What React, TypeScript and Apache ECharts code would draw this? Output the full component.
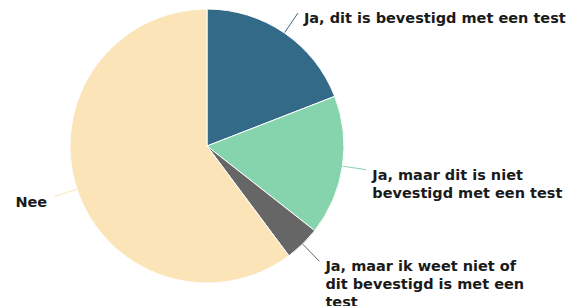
import React, { useEffect, useRef } from "react";
import * as echarts from "echarts";

const categories = [
  "Ja, dit is bevestigd met een test",
  "Ja, maar dit is niet bevestigd met een test",
  "Ja, maar ik weet niet of dit bevestigd is met een test",
  "Nee",
];
const values = [19.1, 16.5, 4.2, 60.2];
const colors = ["#336a87", "#86d4ad", "#666666", "#fbe5b8"];
const labelWidths = [0, 205, 205, 0];

export default function App() {
  const ref = useRef<HTMLDivElement>(null);
  useEffect(() => {
    document.body.style.margin = "0";
    const chart = echarts.init(ref.current!, null, { renderer: "svg" });
    chart.setOption({
      animation: false,
      backgroundColor: "#ffffff",
      series: [
        {
          type: "pie",
          center: [207, 146],
          radius: 137,
          startAngle: 90,
          clockwise: true,
          avoidLabelOverlap: false,
          itemStyle: { borderColor: "#ffffff", borderWidth: 1 },
          label: {
            show: true,
            position: "outside",
            color: "#1a1a1a",
            fontFamily: "DejaVu Sans",
            fontWeight: "bold",
            fontSize: 14.5,
            lineHeight: 18,
            alignTo: "none",
          },
          labelLine: { show: true, length: 24, length2: 0, lineStyle: { width: 1 } },
          labelLayout: (params: any) => {
            const pts = params.labelLinePoints;
            if (!pts) return {};
            const end = pts[pts.length - 1];
            const start = pts[0];
            const right = end[0] >= start[0];
            return {
              x: end[0] + (right ? 6 : -7),
              y: end[1] - 4,
              align: right ? "left" : "right",
              verticalAlign: "top",
              labelLinePoints: pts,
            };
          },
          data: categories.map((name, i) => ({
            name,
            value: values[i],
            itemStyle: { color: colors[i] },
            label: labelWidths[i]
              ? { width: labelWidths[i], overflow: "break" }
              : {},
          })),
        },
      ],
    });
    return () => chart.dispose();
  }, []);
  return (
    <div
      ref={ref}
      style={{ position: "absolute", left: 0, top: 0, width: 570, height: 306 }}
    />
  );
}
